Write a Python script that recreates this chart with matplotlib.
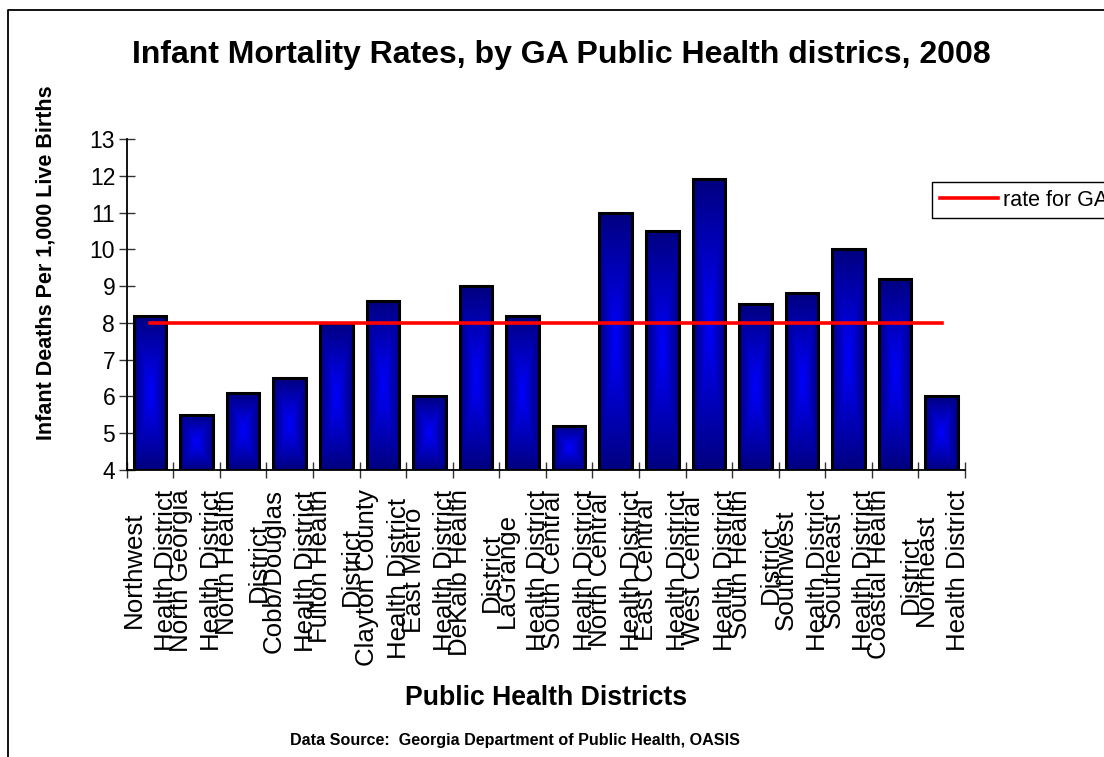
import numpy as np
import matplotlib
matplotlib.use("Agg")
import matplotlib.pyplot as plt
from matplotlib.lines import Line2D

plt.rcParams['font.family'] = ['Liberation Sans', 'DejaVu Sans']

# data
districts = [
    "Northwest\nHealth District", "North Georgia\nHealth District",
    "North Health\nDistrict", "Cobb/Douglas\nHealth District",
    "Fulton Health\nDistrict", "Clayton County\nHealth District",
    "East Metro\nHealth District", "DeKalb Health\nDistrict",
    "LaGrange\nHealth District", "South Central\nHealth District",
    "North Central\nHealth District", "East Central\nHealth District",
    "West Central\nHealth District", "South Health\nDistrict",
    "Southwest\nHealth District", "Southeast\nHealth District",
    "Coastal Health\nDistrict", "Northeast\nHealth District",
]
rates = [8.2, 5.5, 6.1, 6.5, 8.0, 8.6, 6.0, 9.0, 8.2, 5.2,
         11.0, 10.5, 11.9, 8.5, 8.8, 10.0, 9.2, 6.0]
ga_rate = [8.0] * 18
yticks = list(range(4, 14))

W, H = 1104, 757
fig = plt.figure(figsize=(W / 100, H / 100), dpi=100)
ax = fig.add_axes([126.7 / W, 1 - 470 / H, (965 - 126.7) / W, (470 - 139) / H])

x = np.arange(len(rates))
ymin = 4
bars = ax.bar(x, np.array(rates) - ymin, bottom=ymin, width=0.7,
              facecolor='none', edgecolor='black', linewidth=2.2, zorder=3)

# rectangular "from center" gradient inside each bar
n = 200
u = np.linspace(-1, 1, n)
U, V = np.meshgrid(u, u)
t = np.maximum(np.abs(U), np.abs(V))
light = np.array([0.0, 0.0, 1.0])
dark = np.array([0.0, 0.0, 0.5])
grad = light[None, None, :] * (1 - t[..., None]) + dark[None, None, :] * t[..., None]
for p in bars.patches:
    x0, y0 = p.get_x(), p.get_y()
    im = ax.imshow(grad, extent=(x0, x0 + p.get_width(), y0, y0 + p.get_height()),
                   aspect='auto', interpolation='bilinear', zorder=2)
    im.set_clip_path(p)

ax.plot(x, ga_rate, color='red', linewidth=2.6, zorder=4, label='rate for GA')

ax.set_xlim(-0.5, len(rates) - 0.5)
ax.set_ylim(4, 13)
ax.set_yticks(yticks)
ax.set_xticks(np.arange(len(rates) + 1) - 0.5)
ax.set_xticklabels([])
ax.set_xticks(x, minor=True)
ax.set_xticklabels(districts, minor=True, rotation=90, fontsize=18.6,
                   linespacing=1.4, multialignment='center')
ax.tick_params(axis='x', which='minor', length=0, pad=14)
ax.tick_params(axis='both', which='major', direction='inout', length=11.5,
               width=1, color='#333333')
ax.tick_params(axis='y', labelsize=16.5, pad=2.5)
for s in ['top', 'right']:
    ax.spines[s].set_visible(False)
for s in ['left', 'bottom']:
    ax.spines[s].set_linewidth(1.3)

fig.text(561 / W, 1 - 63 / H, "Infant Mortality Rates, by GA Public Health districs, 2008",
         ha='center', va='baseline', fontsize=23, fontweight='bold')
fig.text(46 / W, 1 - 263 / H, "Infant Deaths Per 1,000 Live Births",
         rotation=90, ha='center', va='center', fontsize=15.5, fontweight='bold')
fig.text(546 / W, 1 - 705 / H, "Public Health Districts",
         ha='center', va='baseline', fontsize=19.2, fontweight='bold')
fig.text(515 / W, 1 - 745 / H, "Data Source:  Georgia Department of Public Health, OASIS",
         ha='center', va='baseline', fontsize=11.6, fontweight='bold')

fig.legend(loc='upper left', bbox_to_anchor=(932 / W, 1 - 182 / H), fontsize=15.5,
           frameon=True, fancybox=False, edgecolor='black', framealpha=1,
           handlelength=2.7, handletextpad=0.25, borderpad=0.35, borderaxespad=0)

# outer chart border (top and left edges visible)
fig.add_artist(Line2D([8 / W, 8 / W, 1.0], [0.0, 1 - 10 / H, 1 - 10 / H],
                      transform=fig.transFigure, color='black', linewidth=1.3))

fig.savefig('out.png', dpi=100)
